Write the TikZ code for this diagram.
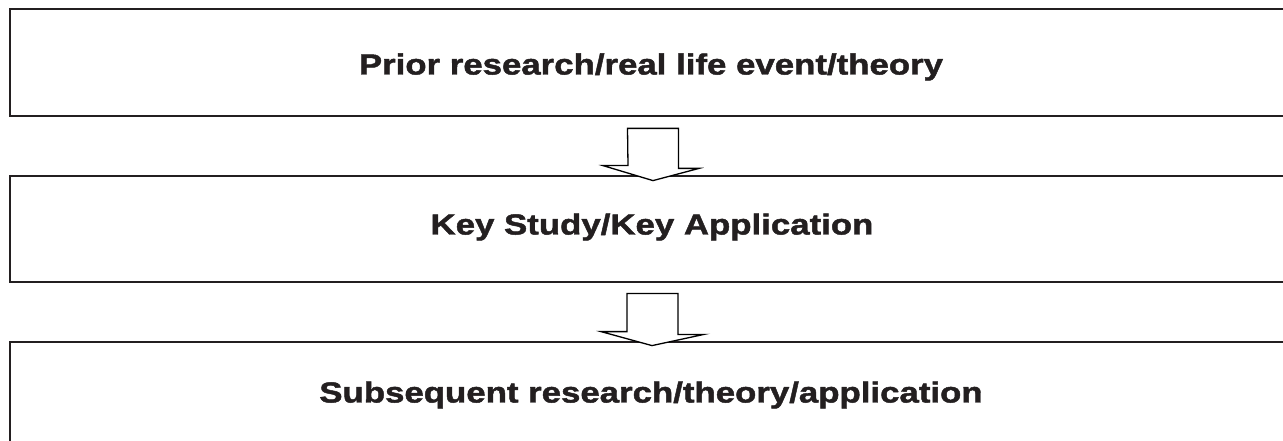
\documentclass[tikz,border=0pt]{standalone}
\usepackage{fontspec}
\setmainfont{Liberation Sans}
\newfontfamily\heavyfont{Liberation Sans Bold}[FakeStretch=1.2, FakeBold=1.6]
\usetikzlibrary{calc}
\definecolor{ink}{HTML}{231F20}
\tikzset{
  box/.style={draw=ink, line width=2.8pt, rectangle, inner sep=0pt, minimum width=1286pt},
  label/.style={text=ink, font=\heavyfont\fontsize{29}{34}\selectfont, inner sep=0pt},
  blockarrow/.style={draw=black, fill=white, line width=1.3pt, line join=miter}
}
\begin{document}
\begin{tikzpicture}[x=1pt,y=-1pt]
\useasboundingbox (0,0) rectangle (1283,441);
\node[box, minimum height=107pt] (b1) at (653,62.5) {};
\node[box, minimum height=106pt] (b2) at (653,229) {};
\node[box, minimum height=118pt] (b3) at (653,401) {};
\node[label] (t1) at (651,67) {Prior research/real life event/theory};
\node[label] (t2) at (652,227) {Key Study/Key Application};
\node[label] (t3) at (651,395) {Subsequent research/theory/application};
\coordinate (a1tip) at ($(b2.north)+(0,6)$);
\coordinate (a2tip) at ($(b3.north)+(-1,5)$);
\draw[blockarrow] ($(b1.south)+(-25.5,11)$) -- ++(51,0) -- ++(0,40) -- ++(20.5,0)
  -- (a1tip) -- ($(a1tip)+(-50,-15)$) -- ++(25,0) -- cycle;
\draw[blockarrow] ($(b2.south)+(-26,10)$) -- ++(51,0) -- ++(0,41) -- ++(26,0)
  -- (a2tip) -- ($(a2tip)+(-51,-14)$) -- ++(26,0) -- cycle;
\end{tikzpicture}
\end{document}
